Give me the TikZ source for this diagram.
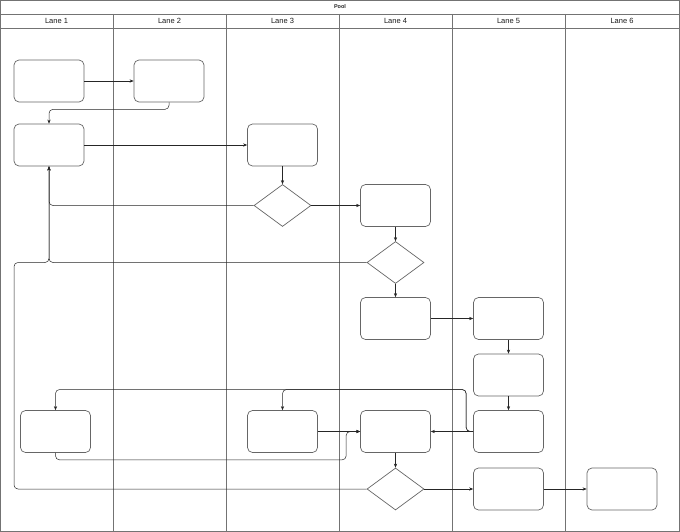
\documentclass[tikz,border=0pt]{standalone}
\usepackage{fontspec}
\setmainfont{Liberation Sans}
\usetikzlibrary{shapes.geometric,arrows.meta}
\begin{document}
\begin{tikzpicture}[x=1pt,y=-1pt,
  frame/.style={draw=black!55,line width=0.7pt},
  box/.style={draw=black!60,line width=0.7pt,rectangle,rounded corners=5pt,minimum width=70pt,minimum height=42pt,inner sep=0pt},
  dia/.style={draw=black!60,line width=0.7pt,diamond,minimum width=57pt,minimum height=42pt,inner sep=0pt},
  arr/.style={draw=black!85,line width=0.5pt,rounded corners=4pt,-{Stealth[length=4pt,width=3.2pt]}},
  lanelbl/.style={font=\fontsize{7.5}{8}\selectfont,text=black!90,inner sep=0pt},
  title/.style={font=\fontsize{5.5}{6}\selectfont\bfseries,text=black!85,inner sep=0pt}]
\useasboundingbox (0,0) rectangle (680,532);
% pool and lanes
\draw[frame] (0.5,0.5) rectangle (679.5,531.5);
\draw[frame] (0.5,14) -- (679.5,14);
\draw[frame] (0.5,28) -- (679.5,28);
\foreach \x in {113,226,339,452,565} \draw[frame] (\x,14) -- (\x,531.5);
\node[title] (pool) at (340,7) {Pool};
\node[lanelbl] (l1) at (56.5,21) {Lane 1};
\node[lanelbl] (l2) at (169.5,21) {Lane 2};
\node[lanelbl] (l3) at (282.5,21) {Lane 3};
\node[lanelbl] (l4) at (395.5,21) {Lane 4};
\node[lanelbl] (l5) at (508.5,21) {Lane 5};
\node[lanelbl] (l6) at (622,21) {Lane 6};
% nodes
\node[box] (A1) at (49,81) {};
\node[box] (A2) at (169,81) {};
\node[box] (B1) at (49,145) {};
\node[box] (B3) at (282.5,145) {};
\node[dia] (D3) at (282.5,205.5) {};
\node[box] (C4) at (395.5,205.5) {};
\node[dia] (D4) at (395.5,262.5) {};
\node[box] (E4) at (395.5,318.5) {};
\node[box] (E5) at (508.5,318.5) {};
\node[box] (F5) at (508.5,375) {};
\node[box] (G1) at (55.5,431.5) {};
\node[box] (G3) at (282.5,431.5) {};
\node[box] (G4) at (395.5,431.5) {};
\node[box] (G5) at (508.5,431.5) {};
\node[dia] (H4) at (395.5,489) {};
\node[box] (H5) at (508.5,489) {};
\node[box] (H6) at (622,489) {};
\coordinate (c1) at (14,262.5);
% connectors
\draw[arr] (A1.east) -- (A2.west);
\draw[arr] (A2.south) -- ++(0,7) -| (B1.north);
\draw[arr] (B1.east) -- (B3.west);
\draw[arr] (B3.south) -- (D3.north);
\draw[arr] (D3.west) -| (B1.south);
\draw[arr] (D3.east) -- (C4.west);
\draw[arr] (C4.south) -- (D4.north);
\draw[arr] (D4.west) -| (B1.south);
\draw[arr] (D4.south) -- (E4.north);
\draw[arr] (E4.east) -- (E5.west);
\draw[arr] (E5.south) -- (F5.north);
\draw[arr] (F5.south) -- (G5.north);
\draw[arr] (G5.west) -- (G4.east);
\draw[arr] (G5.west) -- ++(-7,0) -- ++(0,-42) -| (G1.north);
\draw[arr] (G5.west) -- ++(-7,0) -- ++(0,-42) -| (G3.north);
\draw[arr] (G3.east) -- (G4.west);
\draw[arr] (G1.south) -- ++(0,7) -| ([xshift=-14pt]G4.west) -- (G4.west);
\draw[arr] (G4.south) -- (H4.north);
\draw[arr] (H4.east) -- (H5.west);
\draw[arr] (H5.east) -- (H6.west);
\draw[arr] (H4.west) -| (c1) -| (B1.south);
\end{tikzpicture}
\end{document}
